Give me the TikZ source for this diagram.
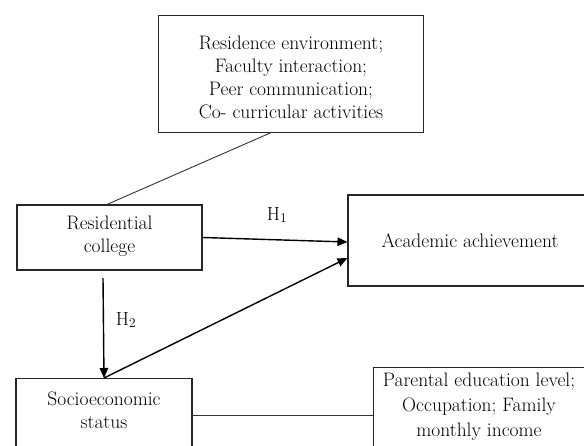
\documentclass[tikz,border=0pt]{standalone}
\usetikzlibrary{arrows.meta}
\begin{document}
\begin{tikzpicture}[x=1pt,y=-1pt,
  box/.style={draw=black!85,line width=1.1pt,inner sep=0pt,rectangle},
  txt/.style={align=center,inner sep=0pt,font=\fontsize{19.5}{23}\selectfont,text=black},
  conn/.style={draw=black!80,line width=0.9pt},
  arr/.style={draw=black,line width=1.4pt,-{Triangle[length=10pt,width=8.5pt]}},
  hlab/.style={inner sep=0pt,font=\fontsize{19}{22}\selectfont,text=black}]
\useasboundingbox (0,0) rectangle (584,445);
\fill[white] (0,0) rectangle (584,445);
% boxes
\node[box,minimum width=265pt,minimum height=117pt] (top) at (291,74) {};
\node[txt] (toptxt) at (291,77) {Residence environment;\\Faculty interaction;\\Peer communication;\\Co- curricular activities};
\node[box,minimum width=185pt,minimum height=65pt] (res) at (109.5,237.5) {};
\node[txt] (restxt) at (109.5,236) {Residential\\college};
\node[box,minimum width=250pt,minimum height=91pt] (acad) at (473,240.5) {};
\node[txt] (acadtxt) at (470,241) {Academic achievement};
\node[box,minimum width=176pt,minimum height=90pt,anchor=north] (ses) at (104,378) {};
\node[txt] (sestxt) at (104,410) {Socioeconomic\\status};
\node[box,minimum width=216pt,minimum height=100pt,anchor=north west] (par) at (373,367) {};
\node[txt,font=\fontsize{19.5}{25}\selectfont] (partxt) at (479,407) {Parental education level;\\Occupation; Family\\monthly income};
% connectors
\draw[conn] ([xshift=-21pt]top.south) -- ([xshift=-2.5pt]res.north);
\coordinate (sesr) at (192,415);
\coordinate (parl) at (373,415);
\draw[conn] (sesr) -- (parl);
\draw[arr] (res.east) -- ([yshift=-1.5pt]acad.west);
\draw[arr] (ses.north) -- ([yshift=-17.5pt]acad.west);
\coordinate (h2s) at (103,278);
\draw[arr] (h2s) -- (ses.north);
% labels
\node[hlab] (h1) at (277,215) {H\textsubscript{1}};
\node[hlab] (h2) at (126,320) {H\textsubscript{2}};
\end{tikzpicture}
\end{document}
